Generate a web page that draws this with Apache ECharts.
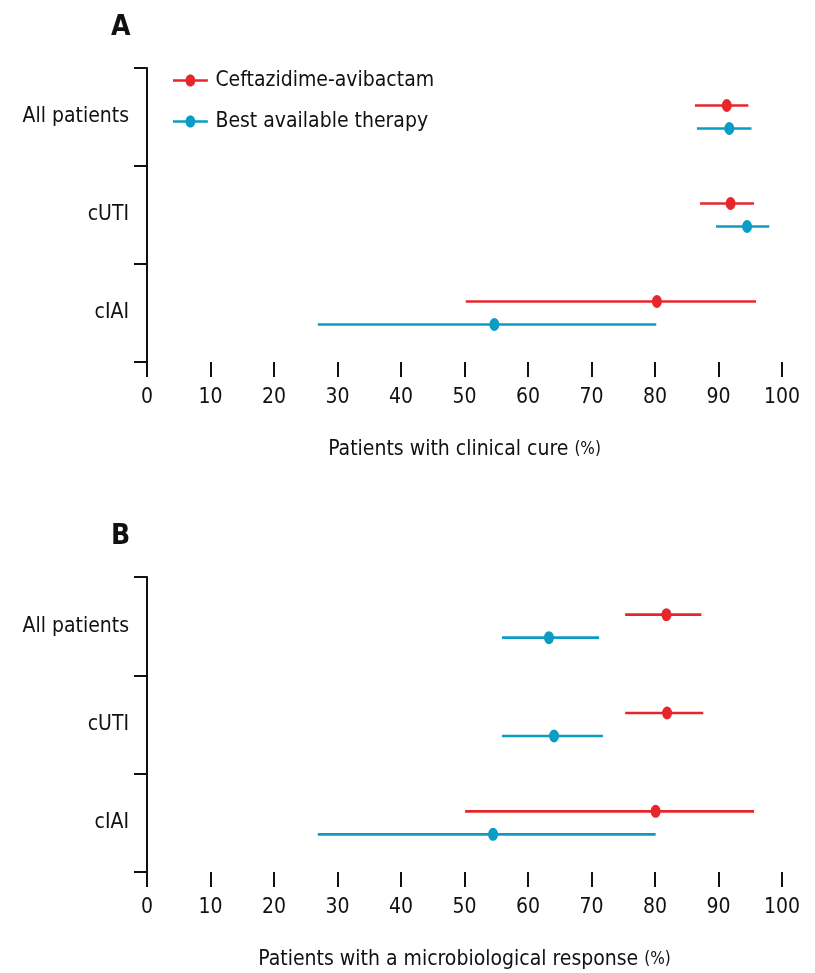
<!DOCTYPE html>
<html>
<head>
<meta charset="utf-8">
<script src="https://cdn.jsdelivr.net/npm/echarts@6/dist/echarts.min.js"></script>
<style>
  html, body { margin: 0; padding: 0; background: #fff; }
  #main { width: 815px; height: 973px; }
</style>
</head>
<body>
<div id="main"></div>
<script>
// categories, top to bottom
var categories = ['All patients', 'cUTI', 'cIAI'];
var xTicks = [0, 10, 20, 30, 40, 50, 60, 70, 80, 90, 100];

// A: clinical cure (%), point + 95% CI
var cureCaz = [91.3, 91.9, 80.3];
var cureCazLow = [86.3, 87.1, 50.2];
var cureCazHigh = [94.7, 95.6, 95.9];
var cureBat = [91.7, 94.5, 54.7];
var cureBatLow = [86.6, 89.6, 26.9];
var cureBatHigh = [95.2, 98.0, 80.2];

// B: microbiological response (%)
var microCaz = [81.8, 81.9, 80.1];
var microCazLow = [75.3, 75.3, 50.1];
var microCazHigh = [87.3, 87.6, 95.6];
var microBat = [63.3, 64.1, 54.5];
var microBatLow = [55.9, 55.9, 26.9];
var microBatHigh = [71.2, 71.8, 80.1];

var RED = '#e6262b';
var BLUE = '#0b9cc5';
var FONT = '"DejaVu Sans Condensed", "DejaVu Sans", sans-serif';
var OFF = 11.5; // px shift of each arm within a category band

var myChart = echarts.init(document.getElementById('main'));

function pts(vals) {
    return vals.map(function (v, i) { return [v, i]; });
}
function bars(lo, hi) {
    return lo.map(function (v, i) { return [v, hi[i], i]; });
}
function errBar(name, color, lo, hi, gi, dy) {
    return {
        type: 'custom', name: name, xAxisIndex: gi, yAxisIndex: gi,
        data: bars(lo, hi), encode: { x: [0, 1], y: 2 }, z: 2,
        renderItem: function (params, api) {
            var a = api.coord([api.value(0), api.value(2)]);
            var b = api.coord([api.value(1), api.value(2)]);
            return {
                type: 'line',
                shape: { x1: a[0], y1: a[1] + dy, x2: b[0], y2: b[1] + dy },
                style: { stroke: color, lineWidth: 2.6 }
            };
        }
    };
}
function dots(name, color, vals, gi, dy) {
    return {
        type: 'scatter', name: name, xAxisIndex: gi, yAxisIndex: gi,
        data: pts(vals), symbol: 'circle', symbolSize: [10, 13],
        symbolOffset: [0, dy], itemStyle: { color: color, opacity: 1 }, z: 3
    };
}
function xAx(gi, title) {
    return {
        type: 'value', gridIndex: gi, min: 0, max: 100, interval: 10,
        name: '{a|' + title + ' }{b|(%)}', nameLocation: 'middle', nameGap: 77,
        nameTextStyle: { rich: {
            a: { fontFamily: FONT, fontSize: 21, color: '#111' },
            b: { fontFamily: FONT, fontSize: 17, color: '#111' } } },
        axisLine: { lineStyle: { color: '#111', width: 2 } },
        axisTick: { show: true, length: 15, lineStyle: { color: '#111', width: 2 } },
        axisLabel: { fontFamily: FONT, fontSize: 21, color: '#111', margin: 25,
            formatter: function (v) { return xTicks.indexOf(v) >= 0 ? String(v) : ''; } },
        splitLine: { show: false }
    };
}
function yAx(gi) {
    return {
        type: 'category', gridIndex: gi, data: categories, inverse: true,
        axisLine: { lineStyle: { color: '#111', width: 2 } },
        axisTick: { show: true, length: 13, lineStyle: { color: '#111', width: 2 } },
        axisLabel: { fontFamily: FONT, fontSize: 21, color: '#111', margin: 18 }
    };
}

var legendIcon = 'path://M0,5 L36,5 L36,7.4 L0,7.4 Z M18,0 C21,0 23,2.7 23,6.2 C23,9.7 21,12.4 18,12.4 C15,12.4 13,9.7 13,6.2 C13,2.7 15,0 18,0 Z';

myChart.setOption({
    animation: false,
    title: [
        { text: 'A', left: 106, top: 9, textStyle: { fontFamily: FONT, fontSize: 28, fontWeight: 'bold', color: '#111' } },
        { text: 'B', left: 106, top: 518, textStyle: { fontFamily: FONT, fontSize: 28, fontWeight: 'bold', color: '#111' } }
    ],
    legend: {
        orient: 'vertical', left: 168, top: 65, itemGap: 20,
        itemWidth: 36, itemHeight: 12,
        textStyle: { fontFamily: FONT, fontSize: 21, color: '#111', padding: [0, 0, 0, 2] },
        data: [
            { name: 'Ceftazidime-avibactam', icon: legendIcon, itemStyle: { color: RED } },
            { name: 'Best available therapy', icon: legendIcon, itemStyle: { color: BLUE } }
        ]
    },
    grid: [
        { left: 147, right: 33, top: 68, height: 294 },
        { left: 147, right: 33, top: 577, height: 295 }
    ],
    xAxis: [xAx(0, 'Patients with clinical cure'), xAx(1, 'Patients with a microbiological response')],
    yAxis: [yAx(0), yAx(1)],
    series: [
        errBar('Ceftazidime-avibactam', RED, cureCazLow, cureCazHigh, 0, -OFF),
        errBar('Best available therapy', BLUE, cureBatLow, cureBatHigh, 0, OFF),
        dots('Ceftazidime-avibactam', RED, cureCaz, 0, -OFF),
        dots('Best available therapy', BLUE, cureBat, 0, OFF),
        errBar('Ceftazidime-avibactam', RED, microCazLow, microCazHigh, 1, -OFF),
        errBar('Best available therapy', BLUE, microBatLow, microBatHigh, 1, OFF),
        dots('Ceftazidime-avibactam', RED, microCaz, 1, -OFF),
        dots('Best available therapy', BLUE, microBat, 1, OFF)
    ]
});
</script>
</body>
</html>
